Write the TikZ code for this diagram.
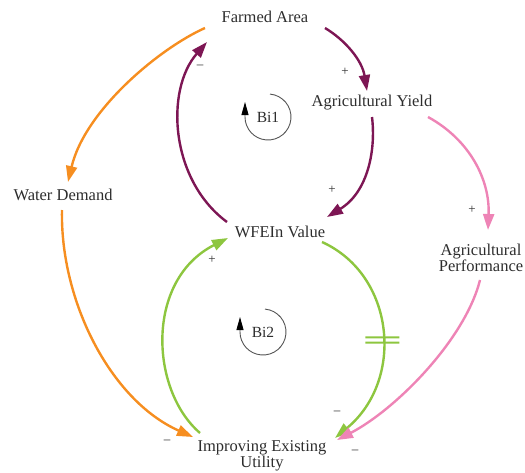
\documentclass[tikz,border=0pt]{standalone}
\usepackage{fontspec}
\setmainfont{Liberation Serif}
\newfontfamily\diagfont{Liberation Serif}
\usetikzlibrary{arrows.meta,decorations.markings}
\definecolor{maroonlink}{RGB}{125,22,84}
\definecolor{orangelink}{RGB}{246,142,32}
\definecolor{greenlink}{RGB}{141,198,63}
\definecolor{pinklink}{RGB}{238,132,182}
\definecolor{labeltext}{RGB}{45,45,45}
\definecolor{loopgray}{RGB}{85,85,85}
\begin{document}
\begin{tikzpicture}[x=1pt,y=-1pt,
  var/.style={font=\diagfont\fontsize{16.5}{15}\selectfont, text=labeltext, inner sep=2pt, align=center},
  link/.style={line width=2.4pt, -{Triangle[length=16pt,width=11pt]}},
  sign/.style={font=\diagfont\fontsize{13}{13}\selectfont, text=labeltext, inner sep=0pt},
  loopmark/.style={draw=loopgray, line width=0.9pt, -{Triangle[length=13pt,width=7pt,color=black]}},
  loopname/.style={font=\diagfont\fontsize{15.5}{15}\selectfont, text=labeltext, inner sep=1pt},
  delay/.style={postaction={decorate, decoration={markings,
      mark=at position #1 with {\draw[greenlink, line width=2pt, -] (-2.6,-17) -- (-2.6,17) (2.6,-17) -- (2.6,17);}}}}
]
\useasboundingbox (0,0) rectangle (525,472);

% variables
\node[var] (fa)  at (265,17)  {Farmed Area};
\node[var] (ay)  at (372,103) {Agricultural Yield};
\node[var] (wfe) at (280,232) {WFEIn Value};
\node[var] (wd)  at (63,195)  {Water Demand};
\node[var] (ap)  at (481,258) {Agricultural\\Performance};
\node[var] (ieu) at (262,456) {Improving Existing\\Utility};

% loop identifiers
\node[loopname] (bi1) at (268,117) {Bi1};
\node[loopname] (bi2) at (263,332) {Bi2};
\draw[loopmark] ([shift={(-85:23)}]bi1.center) arc[start angle=-85, end angle=180, radius=23] -- ++(0,-15);
\draw[loopmark] ([shift={(-85:23)}]bi2.center) arc[start angle=-85, end angle=180, radius=23] -- ++(0,-15);

% loop Bi1
\draw[link, maroonlink] ([shift={(60,11)}]fa.center) .. controls +(20,12) and +(-5,-31) .. ([shift={(-5,-12)}]ay.center)
  node[sign, at end, shift={(-22,-19)}] {+};
\draw[link, maroonlink] ([shift={(0,14)}]ay.center) .. controls +(4,33) and +(41,-25) .. ([shift={(47,-15)}]wfe.center)
  node[sign, at end, shift={(5,-27)}] {+};
\draw[link, maroonlink] ([shift={(-53,-10)}]wfe.center) .. controls +(-57,-42) and +(-42,48) .. ([shift={(-58,25)}]fa.center)
  node[sign, at end, shift={(-7,25)}] {–};

% water demand branch
\draw[link, orangelink] ([shift={(-60,11)}]fa.center) .. controls +(-45,20) and +(17,-72) .. ([shift={(5,-13)}]wd.center);
\draw[link, orangelink] ([shift={(-1,15)}]wd.center) .. controls +(-2,90) and +(-83,-37) .. ([shift={(-69,-19)}]ieu.center)
  node[sign, at end, shift={(-26,5)}] {–};

% loop Bi2
\draw[link, greenlink] ([shift={(-62,-23)}]ieu.center) .. controls +(-50,-43) and +(-83,42) .. ([shift={(-52,6)}]wfe.center)
  node[sign, at end, shift={(-16,22)}] {+};
\draw[link, greenlink, delay=0.52] ([shift={(42,10)}]wfe.center) .. controls +(73,33) and +(70,-58) .. ([shift={(73,-18)}]ieu.center)
  node[sign, at end, shift={(2,-25)}] {–};

% performance branch
\draw[link, pinklink] ([shift={(56,14)}]ay.center) .. controls +(42,23) and +(2,-50) .. ([shift={(7,-28)}]ap.center)
  node[sign, at end, shift={(-16,-20)}] {+};
\draw[link, pinklink] ([shift={(-1,22)}]ap.center) .. controls +(-15,60) and +(58,-30) .. ([shift={(75,-16)}]ieu.center)
  node[sign, at end, shift={(18,12)}] {–};
\end{tikzpicture}
\end{document}
